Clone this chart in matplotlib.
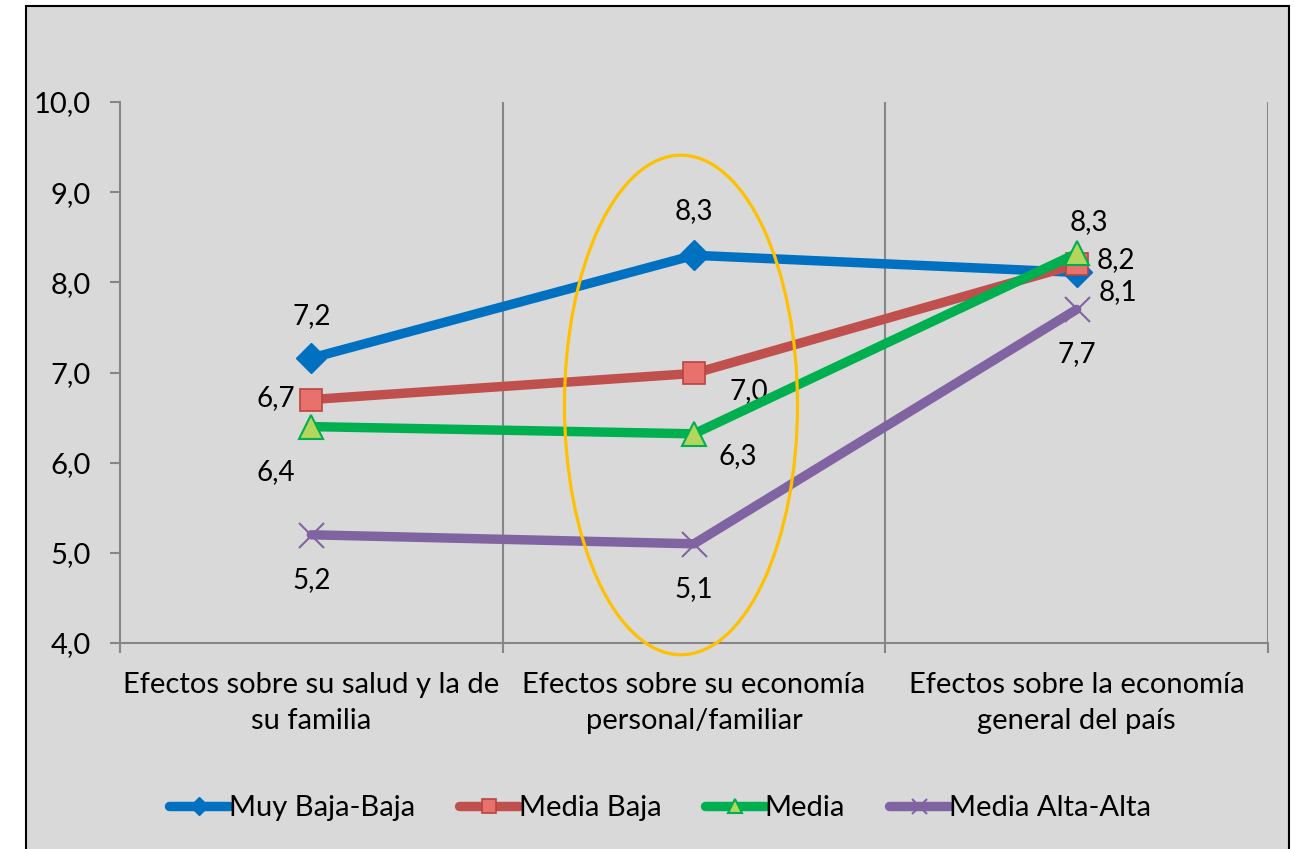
import matplotlib.pyplot as plt
from matplotlib.patches import Ellipse, Rectangle

plt.rcParams["font.family"] = ["Lato", "DejaVu Sans"]

# datos
categorias = ["Efectos sobre su salud y la de\nsu familia",
              "Efectos sobre su economía\npersonal/familiar",
              "Efectos sobre la economía\ngeneral del país"]
series = ["Muy Baja-Baja", "Media Baja", "Media", "Media Alta-Alta"]
muy_baja_baja = [7.16, 8.30, 8.11]
media_baja = [6.70, 6.99, 8.20]
media = [6.40, 6.32, 8.32]
media_alta_alta = [5.20, 5.10, 7.70]

colores = ["#0070C0", "#C0504D", "#00B050", "#8064A2"]
# desplazamientos de etiquetas (pixeles)
offsets = [
    [(0, 42), (0, 44), (41, -20)],
    [(-36, 2), (55, -18), (39, 4)],
    [(-36, -45), (44, -22), (12, 31)],
    [(0, -45), (0, -45), (0, -45)],
]

fig = plt.figure(figsize=(12.95, 8.49), dpi=100)
fig.patches.append(Rectangle((26 / 1295, -0.01), (1289 - 26) / 1295, 1 - 6 / 849 + 0.01,
                             transform=fig.transFigure, facecolor="#D9D9D9",
                             edgecolor="black", linewidth=1.5, zorder=-10))
ax = fig.add_axes([120 / 1295, 1 - 643 / 849, (1268 - 120) / 1295, (643 - 102) / 849])
ax.set_facecolor("none")

x = [0.5, 1.5, 2.5]
datos = [muy_baja_baja, media_baja, media, media_alta_alta]
estilos = [
    dict(marker="D", markersize=15, markerfacecolor=colores[0], markeredgecolor=colores[0]),
    dict(marker="s", markersize=16, markerfacecolor="#E8706D", markeredgecolor="#B94440", markeredgewidth=1.2),
    dict(marker="^", markersize=17, markerfacecolor="#B3D65C", markeredgecolor="#00B050", markeredgewidth=1.5),
    dict(marker="x", markersize=18, markeredgecolor=colores[3], markeredgewidth=1.5),
]
for i, (nombre, valores) in enumerate(zip(series, datos)):
    ax.plot(x, valores, color=colores[i], linewidth=6.8, label=nombre,
            solid_capstyle="round", zorder=3, **estilos[i])
    for j, v in enumerate(valores):
        ax.annotate(("%.1f" % v).replace(".", ","), (x[j], v), xytext=offsets[i][j],
                    textcoords="offset pixels", ha="center", va="center", fontsize=20)

ax.add_patch(Ellipse((1.466, 6.64), 0.609, 5.54, fill=False, edgecolor="#FFC000",
                     linewidth=2.3, clip_on=False, zorder=4))

ax.set_xlim(0, 3)
ax.set_ylim(4, 10)
ax.set_yticks([4, 5, 6, 7, 8, 9, 10])
ax.set_yticklabels([("%.1f" % t).replace(".", ",") for t in range(4, 11)], fontsize=21)
ax.set_xticks([0, 1, 2, 3])
ax.set_xticklabels([])
ax.set_xticks(x, minor=True)
ax.set_xticklabels(categorias, minor=True, fontsize=21, linespacing=1.45)
ax.tick_params(axis="x", which="minor", length=0, pad=21)
ax.tick_params(axis="x", which="major", length=7, color="#868686", width=1.5)
ax.tick_params(axis="y", length=7, color="#868686", width=1.5, pad=14)
for x_g in [1, 2, 3]:
    ax.axvline(x_g, color="#868686", linewidth=1.5, zorder=1)
for lado in ["top", "right"]:
    ax.spines[lado].set_visible(False)
for lado in ["left", "bottom"]:
    ax.spines[lado].set_color("#868686")
    ax.spines[lado].set_linewidth(1.5)

fig.legend(loc="center", bbox_to_anchor=(660 / 1295, 1 - 808 / 849), ncol=4, frameon=False,
           fontsize=21, handlelength=2.05, handletextpad=0.0, columnspacing=1.5, markerscale=0.6)

plt.savefig("out.png", dpi=100)
